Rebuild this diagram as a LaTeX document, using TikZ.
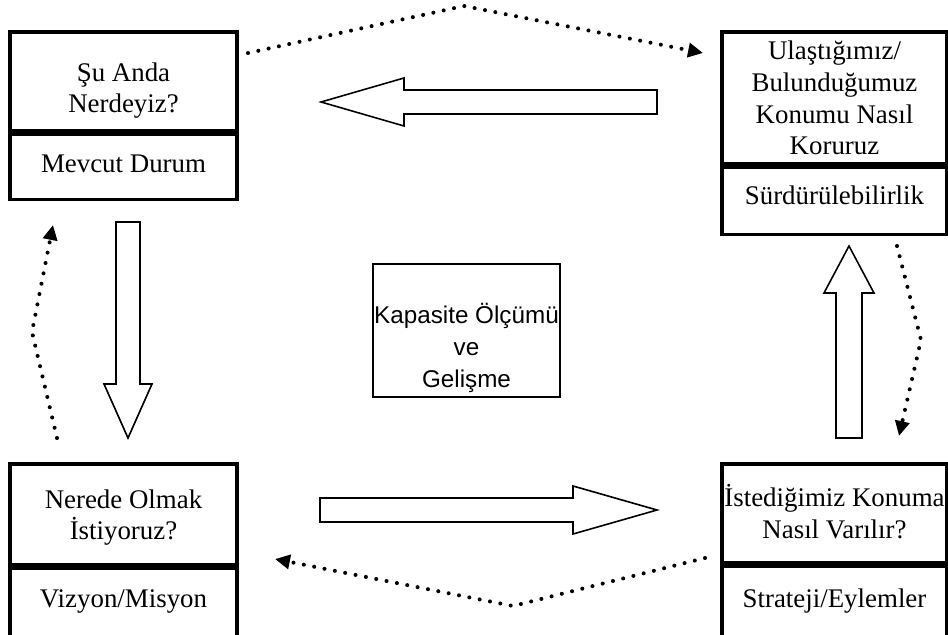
\documentclass[tikz,border=0pt]{standalone}
\usepackage{fontspec}
\setmainfont{Liberation Serif}
\newfontfamily\arialfont{Liberation Sans}
\usetikzlibrary{positioning, arrows.meta}

\begin{document}
\begin{tikzpicture}[x=0.02cm, y=-0.02cm]

% Define styles
\tikzstyle{stagebox}=[draw, line width=1.9pt, inner sep=0pt]
\tikzstyle{boxtext}=[font=\fontsize{15.3}{18.2}\selectfont, align=center, anchor=base, inner sep=0pt]
\tikzstyle{coretext}=[font=\arialfont\fontsize{13.8}{18.2}\selectfont, align=center, anchor=base, inner sep=0pt]
\tikzstyle{block}=[draw, line width=0.9pt, fill=white, line join=miter]
\tikzstyle{dots}=[line width=2.3pt, line cap=round, dash pattern=on 0pt off 6pt, -{Triangle[length=8.5pt,width=8pt]}]

\useasboundingbox (0,0) rectangle (948,635);

% Stage boxes
\node[stagebox, minimum width=4.54cm, minimum height=1.98cm] (now) at (123.5,81.5) {};
\node[stagebox, minimum width=4.54cm, minimum height=1.3cm, below=0pt of now] (nowsub) {};

\node[stagebox, minimum width=4.5cm, minimum height=2.64cm] (keep) at (834.5,98) {};
\node[stagebox, minimum width=4.5cm, minimum height=1.34cm, below=0pt of keep] (keepsub) {};

\node[stagebox, minimum width=4.54cm, minimum height=2.02cm] (goal) at (123.5,514.5) {};
\node[stagebox, minimum width=4.54cm, minimum height=1.36cm, below=0pt of goal] (goalsub) {};

\node[stagebox, minimum width=4.5cm, minimum height=1.98cm] (way) at (834.5,513.5) {};
\node[stagebox, minimum width=4.5cm, minimum height=1.4cm, below=0pt of way] (waysub) {};

\node[stagebox, line width=1.6pt, minimum width=3.74cm, minimum height=2.66cm] (core) at (466.5,330.5) {};

% Texts (anchored at the last line)
\node[boxtext] (nowq) at (123.5,113) {Şu Anda\\Nerdeyiz?};
\node[boxtext] (nowd) at (123.5,173) {Mevcut Durum};
\node[boxtext] (keepq) at (834.5,155) {Ulaştığımız/\\Bulunduğumuz\\Konumu Nasıl\\Koruruz};
\node[boxtext] (keepd) at (834.5,205) {Sürdürülebilirlik};
\node[boxtext] (goalq) at (123.5,540) {Nerede Olmak\\İstiyoruz?};
\node[boxtext] (goald) at (123.5,607) {Vizyon/Misyon};
\node[boxtext] (wayq) at (834.5,538) {İstediğimiz Konuma\\Nasıl Varılır?};
\node[boxtext] (wayd) at (834.5,607) {Strateji/Eylemler};
\node[coretext] (corename) at (466.5,387) {Kapasite Ölçümü\\ve\\Gelişme};

% Block arrows
\draw[block] (657,90) -- (657,114) -- (404,114) -- (404,126) -- (321,102) -- (404,78) -- (404,90) -- cycle;
\draw[block] (116,222) -- (140,222) -- (140,384) -- (152,384) -- (128,438) -- (104,384) -- (116,384) -- cycle;
\draw[block] (320,498) -- (573,498) -- (573,486) -- (657,510) -- (573,534) -- (573,522) -- (320,522) -- cycle;
\draw[block] (836,438) -- (836,293) -- (824,293) -- (849,246) -- (874,293) -- (862,293) -- (862,438) -- cycle;

% Dotted loop
\coordinate (topstart) at (248,53);
\coordinate (topbend) at (464,6);
\coordinate (topend) at (703,53);
\coordinate (rightstart) at (897,246);
\coordinate (rightbend) at (921,340);
\coordinate (rightend) at (899,436);
\coordinate (botstart) at (705,558);
\coordinate (botbend) at (513,606);
\coordinate (botend) at (275,559);
\coordinate (leftstart) at (57,438);
\coordinate (leftbend) at (32,332);
\coordinate (leftend) at (53,225);

\draw[dots] (topstart) -- (topbend) -- (topend);
\draw[dots] (rightstart) -- (rightbend) -- (rightend);
\draw[dots] (botstart) -- (botbend) -- (botend);
\draw[dots] (leftstart) -- (leftbend) -- (leftend);

\end{tikzpicture}
\end{document}
